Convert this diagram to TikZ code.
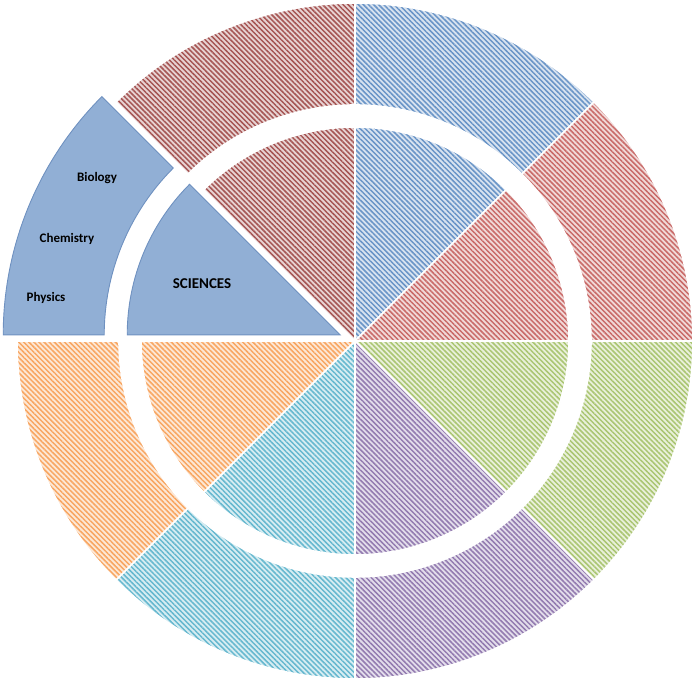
\documentclass[tikz,border=0pt]{standalone}
\usepackage{fontspec}
\setmainfont{Carlito}
\usetikzlibrary{patterns.meta}
\definecolor{cblue}{HTML}{4F81BD}
\definecolor{cred}{HTML}{C0504D}
\definecolor{cgreen}{HTML}{9BBB59}
\definecolor{cpurple}{HTML}{8064A2}
\definecolor{caqua}{HTML}{4BACC6}
\definecolor{corange}{HTML}{F79646}
\definecolor{cdark}{HTML}{953735}
\definecolor{sciblue}{HTML}{91AFD5}
\definecolor{sciedge}{HTML}{6F91C0}
\tikzset{
  sect/.style={preaction={fill=#1!22},
    pattern={Lines[angle=-45,distance=3.6pt,line width=1.5pt]},
    pattern color=#1!85,
    postaction={draw=white,line width=1.6pt}},
  sci/.style={fill=sciblue, draw=sciedge, line width=0.9pt},
  lab/.style={font=\bfseries\fontsize{13}{15}\selectfont, text=black, inner sep=0pt},
  biglab/.style={font=\bfseries\fontsize{15}{17}\selectfont, text=black, inner sep=0pt}
}
\begin{document}
\begin{tikzpicture}[x=1pt,y=1pt]
\useasboundingbox (0,0) rectangle (697,690);
\coordinate (c) at (355,349);
\coordinate (cs) at ([shift={(157.5:16)}]c);
% inner pie
\path[sect=cblue]   (c) -- ([shift={(45:214)}]c)   arc[start angle=45,end angle=90,radius=214] -- cycle;
\path[sect=cred]    (c) -- ([shift={(0:214)}]c)    arc[start angle=0,end angle=45,radius=214] -- cycle;
\path[sect=cgreen]  (c) -- ([shift={(-45:214)}]c)  arc[start angle=-45,end angle=0,radius=214] -- cycle;
\path[sect=cpurple] (c) -- ([shift={(-90:214)}]c)  arc[start angle=-90,end angle=-45,radius=214] -- cycle;
\path[sect=caqua]   (c) -- ([shift={(-135:214)}]c) arc[start angle=-135,end angle=-90,radius=214] -- cycle;
\path[sect=corange] (c) -- ([shift={(180:214)}]c)  arc[start angle=180,end angle=225,radius=214] -- cycle;
\path[sect=cdark]   (c) -- ([shift={(90:214)}]c)   arc[start angle=90,end angle=135,radius=214] -- cycle;
% outer ring
\path[sect=cblue]   ([shift={(45:236)}]c) arc[start angle=45,end angle=90,radius=236] -- ([shift={(90:338)}]c) arc[start angle=90,end angle=45,radius=338] -- cycle;
\path[sect=cred]    ([shift={(0:236)}]c) arc[start angle=0,end angle=45,radius=236] -- ([shift={(45:338)}]c) arc[start angle=45,end angle=0,radius=338] -- cycle;
\path[sect=cgreen]  ([shift={(-45:236)}]c) arc[start angle=-45,end angle=0,radius=236] -- ([shift={(0:338)}]c) arc[start angle=0,end angle=-45,radius=338] -- cycle;
\path[sect=cpurple] ([shift={(-90:236)}]c) arc[start angle=-90,end angle=-45,radius=236] -- ([shift={(-45:338)}]c) arc[start angle=-45,end angle=-90,radius=338] -- cycle;
\path[sect=caqua]   ([shift={(-135:236)}]c) arc[start angle=-135,end angle=-90,radius=236] -- ([shift={(-90:338)}]c) arc[start angle=-90,end angle=-135,radius=338] -- cycle;
\path[sect=corange] ([shift={(180:236)}]c) arc[start angle=180,end angle=225,radius=236] -- ([shift={(225:338)}]c) arc[start angle=225,end angle=180,radius=338] -- cycle;
\path[sect=cdark]   ([shift={(90:236)}]c) arc[start angle=90,end angle=135,radius=236] -- ([shift={(135:338)}]c) arc[start angle=135,end angle=90,radius=338] -- cycle;
% exploded sciences
\path[sci] (cs) -- ([shift={(135:213)}]cs) arc[start angle=135,end angle=180,radius=213] -- cycle;
\path[sci] ([shift={(135:236)}]cs) arc[start angle=135,end angle=180,radius=236] -- ([shift={(180:337)}]cs) arc[start angle=180,end angle=135,radius=337] -- cycle;
% labels
\node[biglab] (sciences) at (202,406) {SCIENCES};
\node[lab] (biology) at (97,512) {Biology};
\node[lab] (chemistry) at (67,451) {Chemistry};
\node[lab] (physics) at (46,392) {Physics};
\end{tikzpicture}
\end{document}
